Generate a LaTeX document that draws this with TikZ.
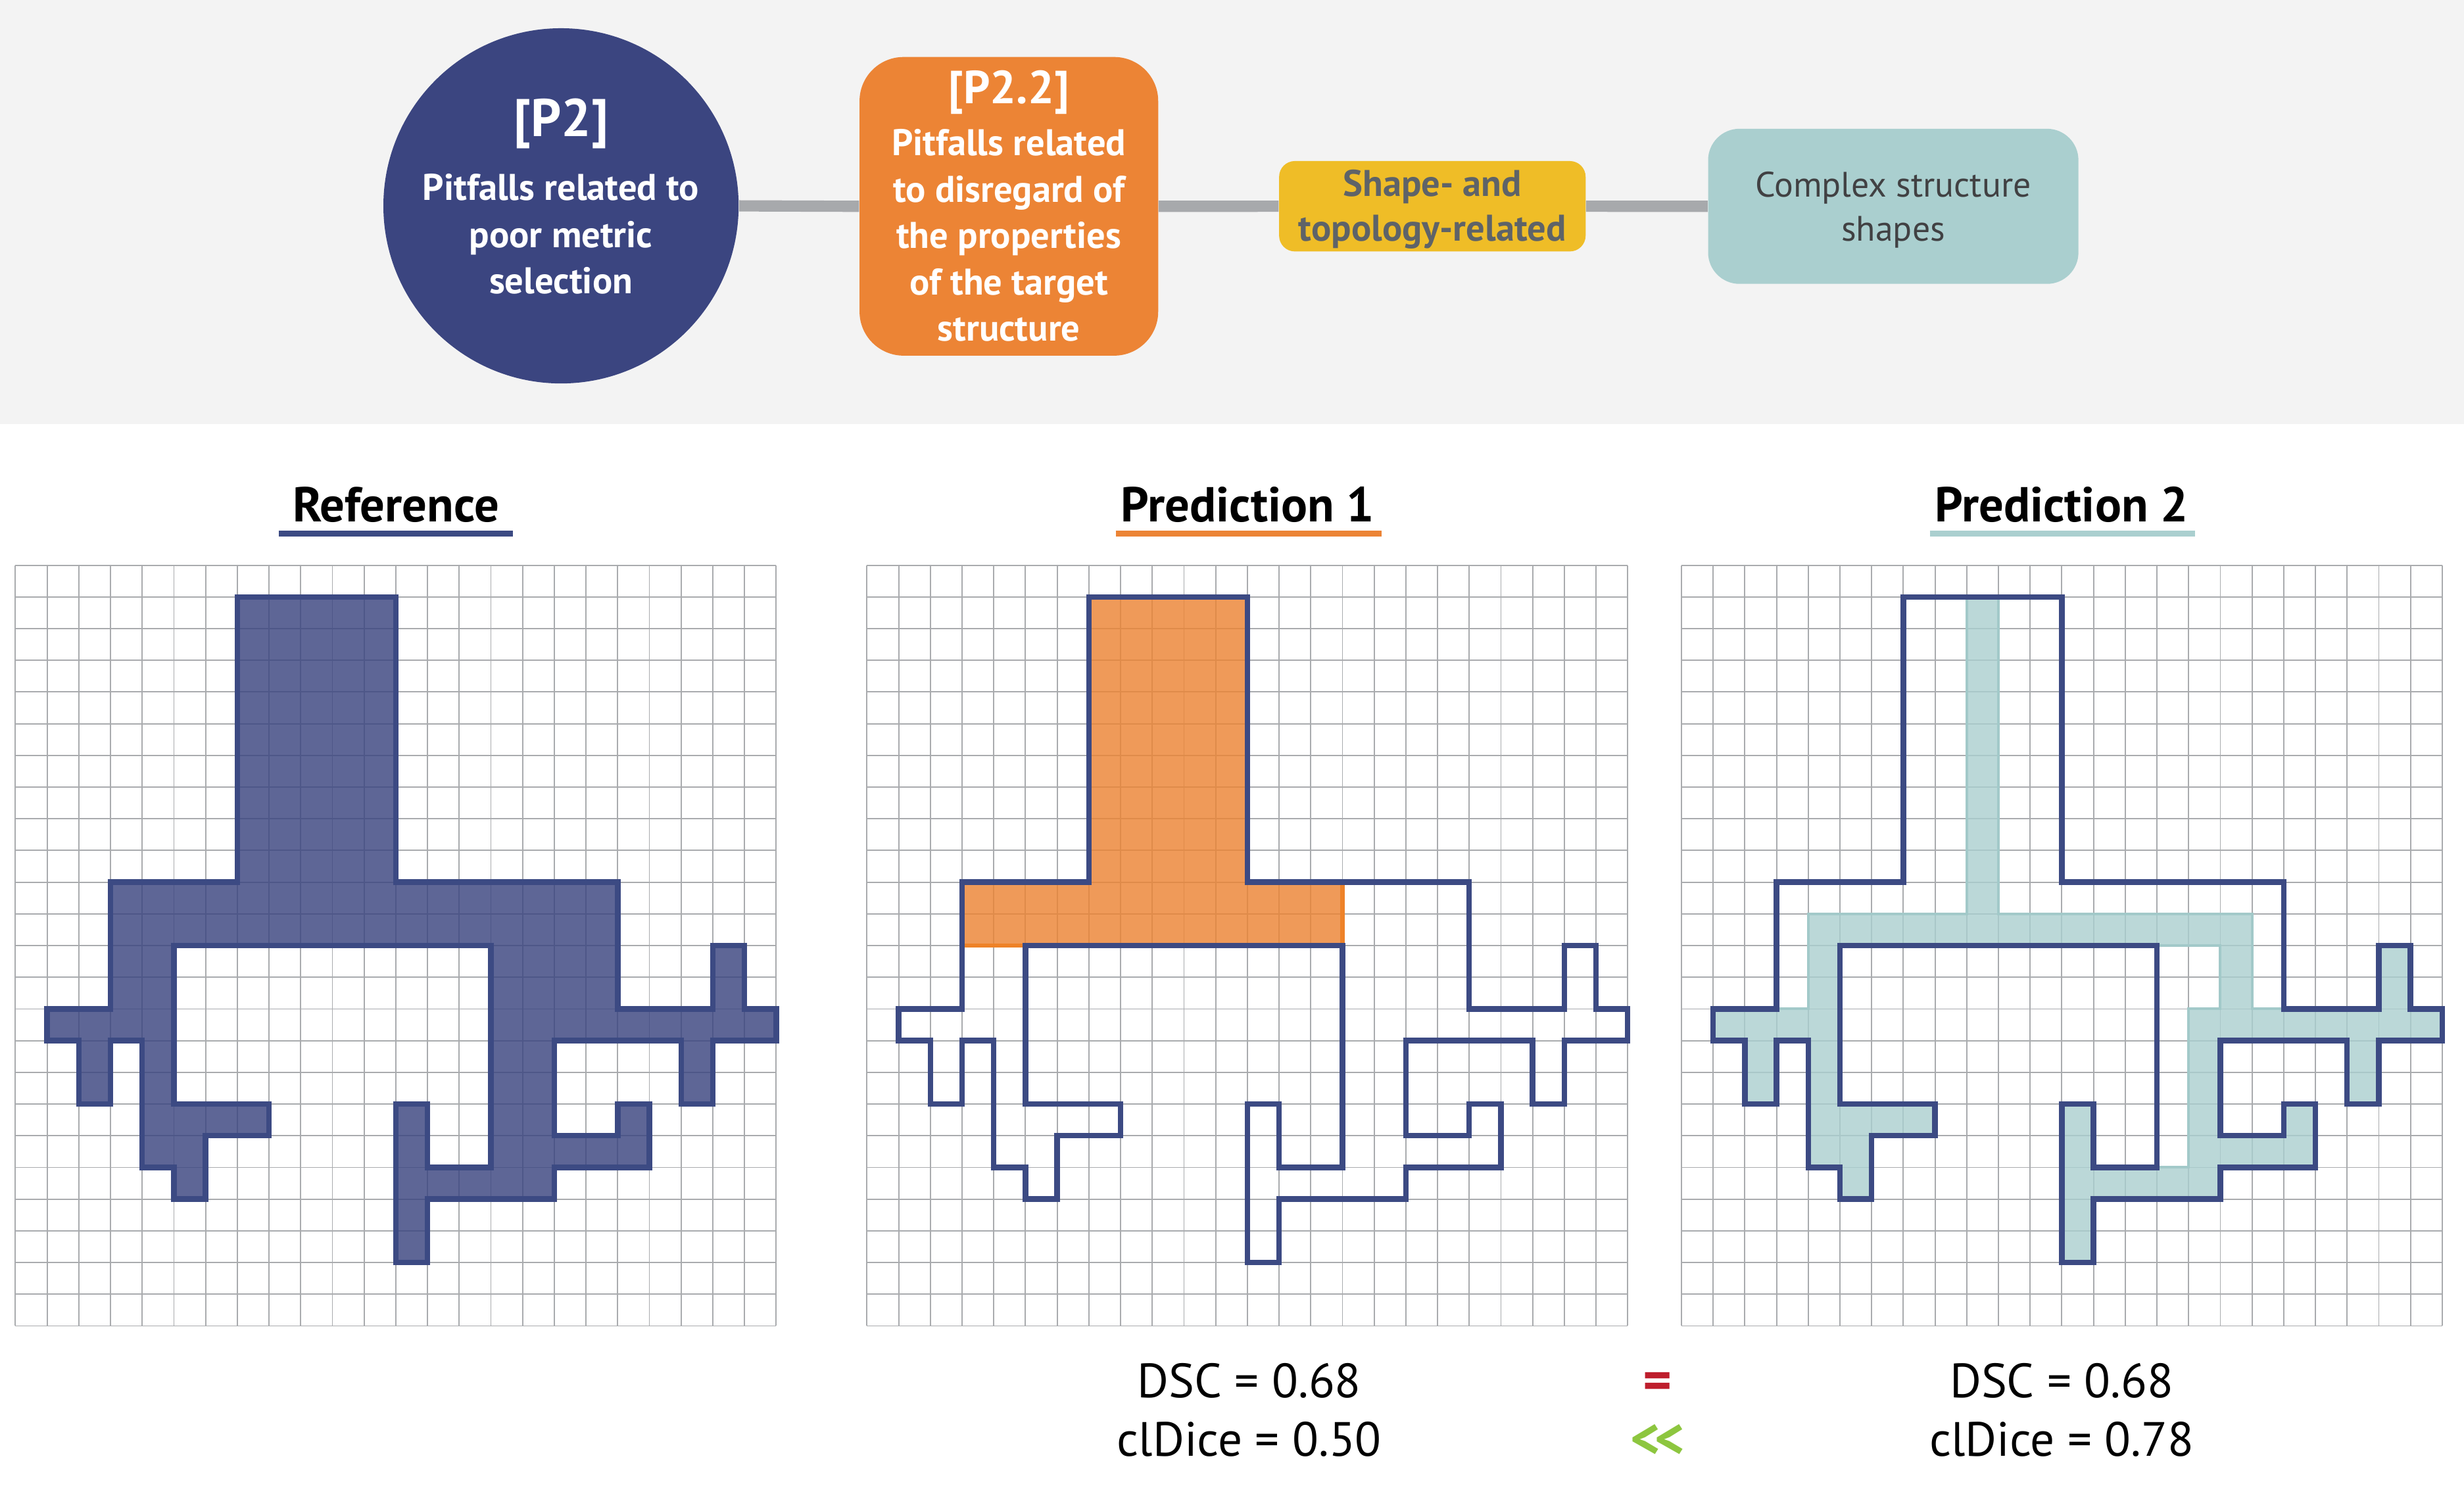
\documentclass[tikz,border=0pt]{standalone}
\usepackage{fontspec}
\setmainfont{PT Sans}
\definecolor{navy}{HTML}{3B4580}
\definecolor{outl}{HTML}{3C4A83}
\definecolor{orng}{HTML}{EC8435}
\definecolor{orngline}{HTML}{EE8228}
\definecolor{ylw}{HTML}{EFBD27}
\definecolor{tealc}{HTML}{AACFCF}
\definecolor{tealline}{HTML}{A2C9C9}
\definecolor{conngray}{HTML}{A7A9AC}
\definecolor{band}{HTML}{F3F3F3}
\definecolor{gridc}{HTML}{A9ABAE}
\definecolor{ylwtext}{HTML}{5E6368}
\definecolor{tealtext}{HTML}{414143}
\definecolor{eqred}{HTML}{BE1E2D}
\definecolor{llgreen}{HTML}{8DC63F}
\newcommand\fbody{\fontsize{16.8pt}{20pt}\selectfont\bfseries}
\newcommand\fbodyreg{\fontsize{16pt}{20pt}\selectfont}
\newcommand\ftitleA{\fontsize{24pt}{26pt}\selectfont\bfseries}
\newcommand\ftitleB{\fontsize{21pt}{24pt}\selectfont\bfseries}
\newcommand\fhead{\fontsize{22.2pt}{24pt}\selectfont\bfseries}
\newcommand\fmetric{\fontsize{21.8pt}{24pt}\selectfont}
\newcommand\fsym{\fontsize{25pt}{26pt}\selectfont\bfseries}
\newcommand\fsymb{\fontsize{26pt}{28pt}\selectfont\bfseries}
\def\shapeoutline{(7,1) -- (12,1) -- (12,10) -- (19,10) -- (19,14) -- (22,14) -- (22,12) -- (23,12) -- (23,14) -- (24,14) -- (24,15) -- (22,15) -- (22,17) -- (21,17) -- (21,15) -- (17,15) -- (17,18) -- (19,18) -- (19,17) -- (20,17) -- (20,19) -- (17,19) -- (17,20) -- (13,20) -- (13,22) -- (12,22) -- (12,17) -- (13,17) -- (13,19) -- (15,19) -- (15,12) -- (5,12) -- (5,17) -- (8,17) -- (8,18) -- (6,18) -- (6,20) -- (5,20) -- (5,19) -- (4,19) -- (4,15) -- (3,15) -- (3,17) -- (2,17) -- (2,15) -- (1,15) -- (1,14) -- (3,14) -- (3,10) -- (7,10) -- cycle}
\def\skelpath{(9,1) -- (10,1) -- (10,11) -- (18,11) -- (18,14) -- (22,14) -- (22,12) -- (23,12) -- (23,14) -- (24,14) -- (24,15) -- (22,15) -- (22,17) -- (21,17) -- (21,15) -- (17,15) -- (17,18) -- (19,18) -- (19,17) -- (20,17) -- (20,19) -- (17,19) -- (17,20) -- (13,20) -- (13,22) -- (12,22) -- (12,17) -- (13,17) -- (13,19) -- (16,19) -- (16,14) -- (17,14) -- (17,12) -- (5,12) -- (5,17) -- (8,17) -- (8,18) -- (6,18) -- (6,20) -- (5,20) -- (5,19) -- (4,19) -- (4,15) -- (3,15) -- (3,17) -- (2,17) -- (2,15) -- (1,15) -- (1,14) -- (4,14) -- (4,11) -- (9,11) -- cycle}
\def\predonepath{(7,1) -- (12,1) -- (12,10) -- (15,10) -- (15,12) -- (3,12) -- (3,10) -- (7,10) -- cycle}
\begin{document}
\begin{tikzpicture}[x=0.025cm,y=-0.025cm,
  conn/.style={draw=conngray, line width=5.1pt},
  lbl/.style={anchor=base, inner sep=0pt, outer sep=0pt},
  gridline/.style={draw=gridc, line width=0.55pt},
  outlinestyle/.style={draw=outl, line width=2.5pt, line join=miter},
  uline/.style={line width=2.5pt},
  panel/.style={x=0.504167cm, y=-0.504167cm}]
\useasboundingbox (0,0) rectangle (1568,946.6);
\fill[white] (0,0) rectangle (1568,946.6);
\fill[band] (0,0) rectangle (1568,270);

% top nodes
\node[circle, fill=navy, minimum size=5.65cm, inner sep=0pt] (p2) at (357,131) {};
\node[rectangle, rounded corners=0.7cm, fill=orng, minimum width=4.75cm, minimum height=4.75cm, inner sep=0pt] (p22) at (642,131.3) {};
\node[rectangle, rounded corners=0.25cm, fill=ylw, minimum width=4.875cm, minimum height=1.4375cm, inner sep=0pt] (shp) at (911.5,131.25) {};
\node[rectangle, rounded corners=0.5cm, fill=tealc, minimum width=5.89cm, minimum height=2.4675cm, inner sep=0pt] (cplx) at (1204.8,131.3) {};
\draw[conn] (p2.east) -- (p22.west);
\draw[conn] (p22.east) -- (shp.west);
\draw[conn] (shp.east) -- (cplx.west);

\node[lbl, text=white, font=\ftitleA] (p2a) at (357,87) {[P2]};
\node[lbl, text=white, font=\fbody] (p2b) at (357,127.6) {Pitfalls related to};
\node[lbl, text=white, font=\fbody] (p2c) at (357,157.5) {poor metric};
\node[lbl, text=white, font=\fbody] (p2d) at (357,187) {selection};

\node[lbl, text=white, font=\ftitleB] (p22a) at (642,66) {[P2.2]};
\node[lbl, text=white, font=\fbody] (p22b) at (642,99) {Pitfalls related};
\node[lbl, text=white, font=\fbody] (p22c) at (642,128.8) {to disregard of};
\node[lbl, text=white, font=\fbody] (p22d) at (642,158) {the properties};
\node[lbl, text=white, font=\fbody] (p22e) at (642,187.5) {of the target};
\node[lbl, text=white, font=\fbody] (p22f) at (642,216.8) {structure};

\node[lbl, text=ylwtext, font=\fbody] (shpa) at (911.5,124.8) {Shape- and};
\node[lbl, text=ylwtext, font=\fbody] (shpb) at (911.5,153.4) {topology-related};

\node[lbl, text=tealtext, font=\fbodyreg] (cpa) at (1204.8,125.5) {Complex structure};
\node[lbl, text=tealtext, font=\fbodyreg] (cpb) at (1204.8,153.4) {shapes};

% headings
\node[lbl, font=\fhead] (href) at (252,332) {Reference};
\node[lbl, font=\fhead] (hp1) at (794,332) {Prediction 1};
\node[lbl, font=\fhead] (hp2) at (1312,332) {Prediction 2};
\draw[uline, draw=outl] (177.4,339.5) -- (326.4,339.5);
\draw[uline, draw=orng] (710,339.5) -- (879,339.5);
\draw[uline, draw=tealc] (1228,339.5) -- (1397,339.5);

% panel: reference
\begin{scope}[shift={(9.8,359.7)}, panel]
  \foreach \i in {0,...,24} {\draw[gridline] (\i,0) -- (\i,24); \draw[gridline] (0,\i) -- (24,\i);}
  \fill[navy, fill opacity=0.82] \shapeoutline;
  \draw[outlinestyle] \shapeoutline;
\end{scope}

% panel: prediction 1
\begin{scope}[shift={(551.7,359.7)}, panel]
  \foreach \i in {0,...,24} {\draw[gridline] (\i,0) -- (\i,24); \draw[gridline] (0,\i) -- (24,\i);}
  \filldraw[fill=orng, fill opacity=0.82, draw=orngline, line width=2pt] \predonepath;
  \draw[outlinestyle] \shapeoutline;
\end{scope}

% panel: prediction 2
\begin{scope}[shift={(1070,359.7)}, panel]
  \foreach \i in {0,...,24} {\draw[gridline] (\i,0) -- (\i,24); \draw[gridline] (0,\i) -- (24,\i);}
  \filldraw[fill=tealc, fill opacity=0.8, draw=tealline, line width=1.2pt] \skelpath;
  \draw[outlinestyle] \shapeoutline;
\end{scope}

% metrics
\node[lbl, font=\fmetric] (m1a) at (795,889.5) {DSC = 0.68};
\node[lbl, font=\fmetric] (m1b) at (795,926.7) {clDice = 0.50};
\node[lbl, font=\fmetric] (m2a) at (1312,889.5) {DSC = 0.68};
\node[lbl, font=\fmetric] (m2b) at (1312,926.7) {clDice = 0.78};
\node[lbl, font=\fsym, text=eqred] (eq) at (1055,890.5) {=};
\node[lbl, font=\fsymb, text=llgreen] (ll) at (1055,928) {<\kern-2.5pt<};
\end{tikzpicture}
\end{document}
